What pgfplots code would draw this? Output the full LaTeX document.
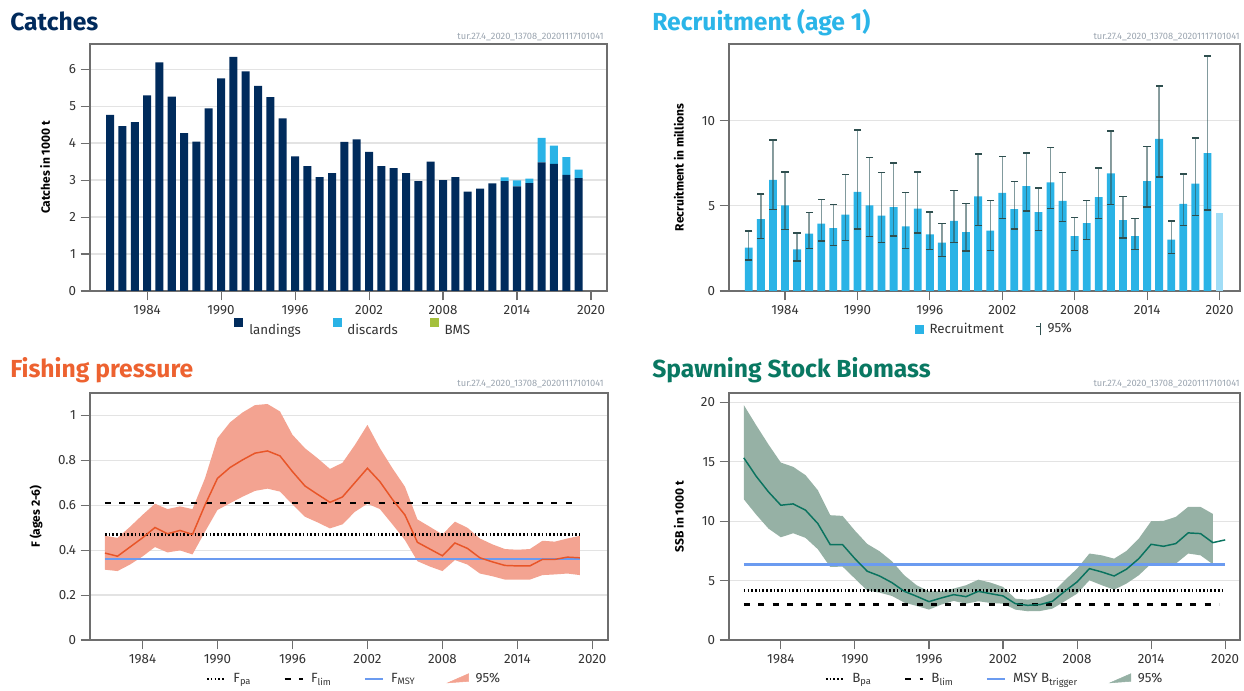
\documentclass[border=0pt]{standalone}
\usepackage{pgfplots}
\usepackage{pgfplotstable}
\pgfplotsset{compat=1.18}
\usepackage{fontspec}
\setmainfont{Fira Sans}

\definecolor{landc}{HTML}{002B5C}
\definecolor{discc}{HTML}{2AB3E6}
\definecolor{bmsc}{HTML}{A4C03C}
\definecolor{recc}{HTML}{2AB3E6}
\definecolor{rec20}{HTML}{A1DDF6}
\definecolor{errc}{HTML}{2F4F4F}
\definecolor{flinec}{HTML}{E85528}
\definecolor{fbandc}{HTML}{F3A391}
\definecolor{slinec}{HTML}{0A735F}
\definecolor{sbandc}{HTML}{96B1A5}
\definecolor{msyc}{HTML}{6B9BF0}
\definecolor{t1}{HTML}{002A5C}
\definecolor{t2}{HTML}{2BB5E8}
\definecolor{t3}{HTML}{ED6230}
\definecolor{t4}{HTML}{097862}
\definecolor{axgray}{HTML}{6E6E6E}
\definecolor{gridc}{HTML}{E3E3E3}
\definecolor{wmc}{HTML}{9BA5B0}
\definecolor{txtc}{HTML}{333333}

\pgfplotstableread{
year land disc
1981 4.76 0
1982 4.46 0
1983 4.57 0
1984 5.29 0
1985 6.18 0
1986 5.26 0
1987 4.27 0
1988 4.04 0
1989 4.94 0
1990 5.75 0
1991 6.33 0
1992 5.94 0
1993 5.55 0
1994 5.24 0
1995 4.67 0
1996 3.64 0
1997 3.38 0
1998 3.08 0
1999 3.19 0
2000 4.03 0
2001 4.10 0
2002 3.76 0
2003 3.38 0
2004 3.32 0
2005 3.19 0
2006 2.97 0
2007 3.50 0
2008 3.00 0
2009 3.08 0
2010 2.69 0
2011 2.77 0
2012 2.91 0
2013 2.97 0.10
2014 2.83 0.16
2015 2.92 0.12
2016 3.48 0.66
2017 3.44 0.49
2018 3.14 0.48
2019 3.05 0.23
}\catchtab

\pgfplotstableread{
year r lo hi
1981 2.55 1.82 3.53
1982 4.22 3.10 5.69
1983 6.53 4.78 8.86
1984 5.02 3.61 6.98
1985 2.45 1.76 3.41
1986 3.37 2.51 4.59
1987 3.96 2.94 5.37
1988 3.69 2.69 5.08
1989 4.49 2.96 6.84
1990 5.82 3.63 9.45
1991 5.02 3.20 7.84
1992 4.43 2.86 6.94
1993 4.92 3.22 7.51
1994 3.80 2.51 5.78
1995 4.84 3.41 6.98
1996 3.33 2.45 4.63
1997 2.84 2.04 3.98
1998 4.12 2.86 5.88
1999 3.45 2.35 5.12
2000 5.55 3.86 8.04
2001 3.55 2.39 5.31
2002 5.76 4.24 7.90
2003 4.80 3.63 6.43
2004 6.16 4.69 8.10
2005 4.63 3.55 6.04
2006 6.37 4.84 8.41
2007 5.29 4.08 6.96
2008 3.22 2.39 4.33
2009 3.98 3.02 5.31
2010 5.51 4.24 7.22
2011 6.90 5.08 9.39
2012 4.16 3.12 5.53
2013 3.22 2.45 4.25
2014 6.45 4.94 8.49
2015 8.93 6.69 12.03
2016 3.02 2.20 4.10
2017 5.12 3.84 6.86
2018 6.31 4.45 8.98
2019 8.10 4.75 13.80
}\rectab

\pgfplotstableread{
year f lo hi
1981 0.387 0.313 0.464
1982 0.373 0.307 0.455
1983 0.414 0.336 0.504
1984 0.455 0.372 0.557
1985 0.501 0.414 0.607
1986 0.473 0.390 0.583
1987 0.488 0.399 0.595
1988 0.470 0.381 0.583
1989 0.601 0.482 0.720
1990 0.720 0.579 0.899
1991 0.768 0.609 0.969
1992 0.802 0.638 1.013
1993 0.832 0.664 1.046
1994 0.842 0.674 1.051
1995 0.820 0.661 1.018
1996 0.750 0.604 0.914
1997 0.686 0.549 0.854
1998 0.649 0.524 0.810
1999 0.613 0.497 0.762
2000 0.637 0.515 0.789
2001 0.701 0.571 0.869
2002 0.765 0.607 0.958
2003 0.705 0.583 0.854
2004 0.626 0.515 0.765
2005 0.557 0.445 0.683
2006 0.435 0.351 0.537
2007 0.405 0.327 0.504
2008 0.375 0.307 0.470
2009 0.432 0.356 0.527
2010 0.408 0.336 0.500
2011 0.366 0.296 0.452
2012 0.348 0.284 0.426
2013 0.332 0.269 0.405
2014 0.330 0.269 0.402
2015 0.330 0.269 0.405
2016 0.359 0.289 0.442
2017 0.359 0.292 0.438
2018 0.369 0.296 0.452
2019 0.366 0.289 0.464
}\ftab

\pgfplotstableread{
year s lo hi
1981 15.34 11.85 19.78
1982 13.79 10.56 18.09
1983 12.47 9.38 16.46
1984 11.35 8.65 14.94
1985 11.46 8.99 14.58
1986 10.93 8.60 13.88
1987 9.80 7.64 12.61
1988 8.03 6.15 10.51
1989 8.03 6.18 10.45
1990 6.85 5.17 9.21
1991 5.79 4.16 8.09
1992 5.39 3.99 7.47
1993 4.83 3.71 6.63
1994 4.10 3.15 5.45
1995 3.68 2.87 4.61
1996 3.23 2.56 4.10
1997 3.54 2.98 4.10
1998 3.82 3.29 4.33
1999 3.65 3.06 4.61
2000 4.10 3.26 5.08
2001 3.90 3.12 4.83
2002 3.71 3.06 4.47
2003 3.06 2.56 3.48
2004 2.92 2.42 3.40
2005 2.98 2.44 3.54
2006 3.26 2.64 3.99
2007 4.10 3.26 5.03
2008 4.89 3.90 6.01
2009 6.01 5.03 7.28
2010 5.73 4.61 7.13
2011 5.39 4.24 6.85
2012 5.96 4.75 7.50
2013 6.85 5.45 8.54
2014 8.06 6.43 10.00
2015 7.89 6.24 10.03
2016 8.12 6.43 10.37
2017 9.02 7.28 11.21
2018 8.96 7.13 11.21
2019 8.20 6.38 10.62
2020 8.43 8.43 8.43
}\ssbtab

\pgfplotsset{
  icesax/.style={
    scale only axis,
    axis line style={draw=axgray, line width=0.8pt},
    tick style={draw=axgray, line width=0.8pt},
    tick align=outside, major tick length=7pt,
    xtick pos=left, ytick pos=left,
    ymajorgrids, grid style={draw=gridc, line width=0.9pt},
    xtick={1984,1990,1996,2002,2008,2014,2020},
    /pgf/number format/assume math mode=true,
    xticklabel style={/pgf/number format/1000 sep={}},
    ticklabel style={font=\fontsize{10}{12}\selectfont, text=txtc},
    ylabel style={font=\bfseries\fontsize{9}{11}\selectfont, text=black, at={(axis description cs:#1,0.5)}, anchor=center},
    legend style={draw=none, fill=none, font=\fontsize{10}{12}\selectfont, text=txtc,
      legend columns=-1, anchor=center,
      /tikz/every odd column/.append style={column sep=3pt},
      /tikz/every even column/.append style={column sep=22pt}},
  },
  shortline/.style={legend image code/.code={\draw[##1] (0cm,0cm) -- (0.48cm,0cm);}},
  fpastyle/.style={black, line width=2.2pt, dash pattern=on 1.2pt off 1.6pt},
  flimstyle/.style={black, line width=2.2pt, dash pattern=on 4.5pt off 6.3pt},
  fmsystyle/.style={msyc, line width=2pt},
}

\begin{document}
\begin{tikzpicture}
\path (0,0) rectangle (933pt,516.75pt);

% titles
\node[anchor=base west, inner sep=0pt, font=\bfseries\fontsize{18.5}{20}\selectfont, text=t1] at (7.5pt,493.5pt) {Catches};
\node[anchor=base west, inner sep=0pt, font=\bfseries\fontsize{18.5}{20}\selectfont, text=t2] at (489pt,493.5pt) {Recruitment (age 1)};
\node[anchor=base west, inner sep=0pt, font=\bfseries\fontsize{18.5}{20}\selectfont, text=t3] at (7.5pt,233.5pt) {Fishing pressure};
\node[anchor=base west, inner sep=0pt, font=\bfseries\fontsize{18.5}{20}\selectfont, text=t4] at (489pt,233.5pt) {Spawning Stock Biomass};
% watermarks
\node[anchor=base east, font=\fontsize{7}{8}\selectfont, text=wmc, inner sep=0pt] at (453pt,486.75pt) {tur.27.4\_2020\_13708\_20201117101041};
\node[anchor=base east, font=\fontsize{7}{8}\selectfont, text=wmc, inner sep=0pt] at (930pt,486.75pt) {tur.27.4\_2020\_13708\_20201117101041};
\node[anchor=base east, font=\fontsize{7}{8}\selectfont, text=wmc, inner sep=0pt] at (453pt,226.7pt) {tur.27.4\_2020\_13708\_20201117101041};
\node[anchor=base east, font=\fontsize{7}{8}\selectfont, text=wmc, inner sep=0pt] at (930pt,226.7pt) {tur.27.4\_2020\_13708\_20201117101041};

% ---------------- Catches
\begin{axis}[icesax=-0.087,
  at={(67.5pt,298.5pt)}, anchor=south west,
  width=387.75pt, height=185.25pt,
  xmin=1979.37, xmax=2021.3, ymin=0, ymax=6.68,
  ytick={0,1,2,3,4,5,6},
  ylabel={Catches in 1000 t},
  ybar stacked, bar width=0.65,
  legend style={at={(0.51,-0.154)}},
]
\addplot[fill=landc, draw=none, forget plot] table[x=year,y=land]{\catchtab};
\addplot[fill=discc, draw=none, forget plot] table[x=year,y=disc]{\catchtab};
\addlegendimage{only marks, mark=square*, mark size=3pt, color=landc}
\addlegendentry{landings}
\addlegendimage{only marks, mark=square*, mark size=3pt, color=discc}
\addlegendentry{discards}
\addlegendimage{only marks, mark=square*, mark size=3pt, color=bmsc}
\addlegendentry{BMS}
\end{axis}

% ---------------- Recruitment
\begin{axis}[icesax=-0.098,
  at={(546.75pt,298.5pt)}, anchor=south west,
  width=383.25pt, height=185.25pt,
  xmin=1979.36, xmax=2021.7, ymin=0, ymax=14.5,
  ytick={0,5,10},
  ylabel={Recruitment in millions},
  legend style={at={(0.52,-0.154)}},
]
\addplot[ybar, bar width=0.65, bar shift=0pt, fill=recc, draw=none, forget plot,
  error bars/.cd, y dir=both, y explicit, error mark=none,
  error bar style={draw=errc, draw opacity=0.55, line width=1pt}]
  table[x=year, y=r, y error plus expr=\thisrow{hi}-\thisrow{r}, y error minus expr=\thisrow{r}-\thisrow{lo}]{\rectab};
\addplot[only marks, mark=-, mark size=2.7pt, mark options={draw=errc, line width=1pt}, forget plot] table[x=year,y=hi]{\rectab};
\addplot[only marks, mark=-, mark size=2.7pt, mark options={draw=errc, line width=1pt}, forget plot] table[x=year,y=lo]{\rectab};
\addplot[ybar, bar width=0.65, bar shift=0pt, fill=rec20, draw=none, forget plot] coordinates {(2020,4.57)};
\addlegendimage{only marks, mark=square*, mark size=3pt, color=recc}
\addlegendentry{Recruitment}
\addlegendimage{legend image code/.code={
  \draw[errc, line width=0.9pt] (0.3cm,-0.17cm) -- (0.3cm,0.17cm);
  \draw[errc, line width=0.9pt] (0.2cm,0.06cm) -- (0.3cm,0.06cm);}}
\addlegendentry{95\%}
\end{axis}

% ---------------- Fishing pressure
\begin{axis}[icesax=-0.104,
  at={(67.5pt,36.75pt)}, anchor=south west,
  width=388.5pt, height=185.25pt,
  xmin=1979.8, xmax=2021.25, ymin=0, ymax=1.1,
  ytick={0,0.2,0.4,0.6,0.8,1},
  ylabel={F (ages 2-6)},
  legend style={at={(0.51,-0.158)}},
]
\addplot[draw=none, stack plots=y, forget plot] table[x=year,y=lo]{\ftab};
\addplot[fill=fbandc, draw=none, stack plots=y, forget plot] table[x=year,y expr=\thisrow{hi}-\thisrow{lo}]{\ftab} \closedcycle;
\addplot[fpastyle, forget plot] coordinates {(1981,0.47) (2019,0.47)};
\addplot[flimstyle, forget plot] coordinates {(1981,0.61) (2019,0.61)};
\addplot[fmsystyle, forget plot] coordinates {(1981,0.36) (2019,0.36)};
\addplot[flinec, line width=1.1pt, forget plot] table[x=year,y=f]{\ftab};
\addlegendimage{fpastyle, shortline}
\addlegendentry{F\textsubscript{pa}}
\addlegendimage{flimstyle, shortline}
\addlegendentry{F\textsubscript{lim}}
\addlegendimage{fmsystyle, shortline}
\addlegendentry{F\textsubscript{MSY}}
\addlegendimage{legend image code/.code={
  \fill[fbandc] (0cm,-0.1cm) -- (0.55cm,-0.06cm) -- (0.55cm,0.14cm) -- cycle;}}
\addlegendentry{95\%}
\end{axis}

% ---------------- SSB
\begin{axis}[icesax=-0.098,
  at={(546.75pt,36.75pt)}, anchor=south west,
  width=383.25pt, height=185.25pt,
  xmin=1979.8, xmax=2021.2, ymin=0, ymax=20.8,
  ytick={0,5,10,15,20},
  ylabel={SSB in 1000 t},
  legend style={at={(0.52,-0.158)}},
]
\addplot[draw=none, stack plots=y, forget plot, skip coords between index={39}{40}] table[x=year,y=lo]{\ssbtab};
\addplot[fill=sbandc, draw=none, stack plots=y, forget plot, skip coords between index={39}{40}] table[x=year,y expr=\thisrow{hi}-\thisrow{lo}]{\ssbtab} \closedcycle;
\addplot[fpastyle, forget plot] coordinates {(1981,4.15) (2020,4.15)};
\addplot[flimstyle, forget plot] coordinates {(1981,2.97) (2019.5,2.97)};
\addplot[fmsystyle, forget plot] coordinates {(1981,6.35) (2020,6.35)};
\addplot[slinec, line width=1.1pt, forget plot] table[x=year,y=s]{\ssbtab};
\addlegendimage{fpastyle, shortline}
\addlegendentry{B\textsubscript{pa}}
\addlegendimage{flimstyle, shortline}
\addlegendentry{B\textsubscript{lim}}
\addlegendimage{fmsystyle, shortline}
\addlegendentry{MSY B\textsubscript{trigger}}
\addlegendimage{legend image code/.code={
  \fill[sbandc] (0cm,-0.1cm) -- (0.55cm,-0.06cm) -- (0.55cm,0.14cm) -- cycle;}}
\addlegendentry{95\%}
\end{axis}
\end{tikzpicture}
\end{document}
